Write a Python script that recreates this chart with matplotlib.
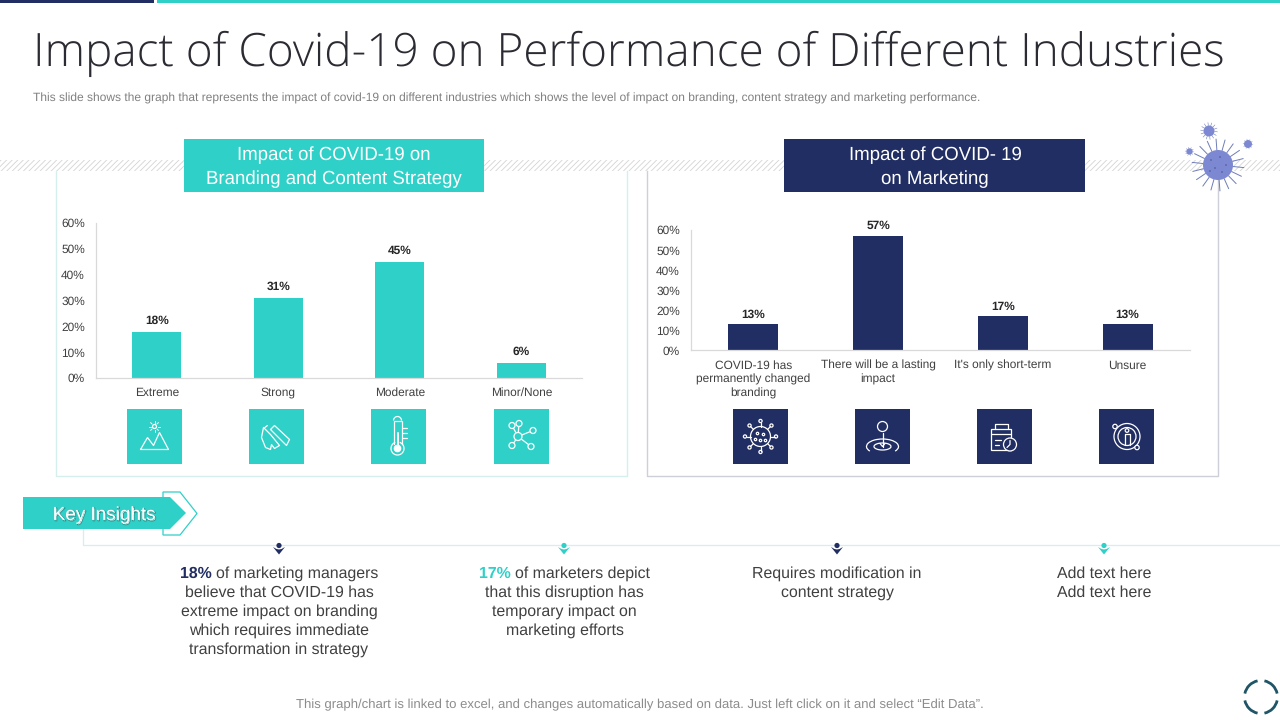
import numpy as np
import matplotlib
matplotlib.use("Agg")
import matplotlib.pyplot as plt
import matplotlib.patheffects as pe
from matplotlib.patches import Rectangle, Polygon, Circle, Arc

TEAL = "#2fd0c8"
NAVY = "#212e63"
TXT = "#404040"
plt.rcParams["font.family"] = ["Liberation Sans", "DejaVu Sans"]
plt.rcParams["hatch.linewidth"] = 0.6
plt.rcParams["text.hinting"] = "no_hinting"
plt.rcParams["text.hinting_factor"] = 8

left_categories = ["Extreme", "Strong", "Moderate", "Minor/None"]
left_values = [18, 31, 45, 6]
right_categories = ["COVID-19 has\npermanently changed\nbranding", "There will be a lasting\nimpact",
                    "It's only short-term", "Unsure"]
right_values = [13, 57, 17, 13]
y_ticks = [0, 10, 20, 30, 40, 50, 60]

W, H = 1280, 720
fig = plt.figure(figsize=(12.8, 7.2), dpi=100, facecolor="white")
bg = fig.add_axes([0, 0, 1, 1], zorder=0)
bg.set_xlim(0, W); bg.set_ylim(H, 0); bg.axis("off")


def rect(x0, y0, x1, y1, **kw):
    bg.add_patch(Rectangle((x0, y0), x1 - x0, y1 - y0, **kw))


def line(xs, ys, c="white", lw=0.9, z=6):
    bg.plot(xs, ys, color=c, lw=lw, zorder=z, solid_capstyle="round")


def circ(x, y, r, c="white", lw=0.9, fill=False, z=6):
    bg.add_patch(Circle((x, y), r, fill=fill, facecolor=c if fill else "none",
                        edgecolor=c, lw=lw, zorder=z))


# top strips
rect(0, 0, 154, 3, fc=NAVY, lw=0)
rect(157, 0, W, 3, fc=TEAL, lw=0)

bg.text(33, 54, "Impact of Covid-19 on Performance of Different Industries", fontsize=33.06,
        family=["Open Sans", "Liberation Sans"], weight=300, color="#2b2b33", va="center", ha="left")
bg.text(33, 98, "This slide shows the graph that represents the impact of covid-19 on different industries "
        "which shows the level of impact on branding, content strategy and marketing performance.",
        fontsize=8.65, color="#808080", va="center", ha="left")

# hatched band
rect(0, 160, W, 171, fc="white", ec="#d4d4d4", hatch="//////", lw=0, zorder=1)

# panels: white body, three visible edges
rect(56, 171, 627, 476, fc="white", lw=0, zorder=2)
rect(647, 171, 1218, 476, fc="white", lw=0, zorder=2)
bg.plot([56, 56, 627, 627], [171, 476, 476, 171], color="#d5efec", lw=1, zorder=2.5)
bg.plot([647, 647, 1217.5, 1217.5], [171, 476, 476, 175], color="#cdd0d9", lw=1, zorder=2.5)

# headers
rect(184, 139, 484, 192, fc=TEAL, lw=0, zorder=3)
rect(784, 139, 1085, 192, fc=NAVY, lw=0, zorder=3)
bg.text(334, 167.5, "Impact of COVID-19 on\nBranding and Content Strategy", color="white", fontsize=13.4,
        ha="center", va="center", linespacing=1.45, zorder=4)
bg.text(935, 167.5, "Impact of COVID- 19\non Marketing", color="white", fontsize=13.4,
        ha="center", va="center", linespacing=1.45, zorder=4)


def chart(px0, px1, ptop, pbot, cats, vals, color, off):
    ax = fig.add_axes([px0 / W, 1 - pbot / H, (px1 - px0) / W, (pbot - ptop) / H], zorder=3)
    ax.patch.set_alpha(0)
    x = np.arange(len(vals))
    ax.bar(x, vals, width=0.4, color=color)
    ax.set_xlim(-0.5, len(vals) - 0.5)
    ax.set_ylim(0, 60)
    ax.set_yticks(y_ticks, [f"{t}%" for t in y_ticks])
    ax.set_xticks(x, cats)
    ax.tick_params(length=0, labelsize=8.6, labelcolor=TXT)
    ax.tick_params(axis="x", pad=6.7)
    ax.tick_params(axis="y", pad=8)
    for lb in ax.get_xticklabels():
        lb.set_linespacing(1.3)
    for s in ("top", "right"):
        ax.spines[s].set_visible(False)
    for s in ("left", "bottom"):
        ax.spines[s].set_color("#d9d9d9")
        ax.spines[s].set_linewidth(0.9)
    for xi, v in zip(x, vals):
        ax.annotate(f"{v}%", (xi, v), xytext=(0, off), textcoords="offset points", ha="center",
                    va="bottom", fontsize=8.6, weight="bold", color="#262626")
    return ax


chart(96, 582, 223, 378, left_categories, left_values, TEAL, 4)
chart(691, 1190, 230, 350.5, right_categories, right_values, NAVY, 3)

# icon tiles
for x0 in (127, 249, 371, 494):
    rect(x0, 409, x0 + 55, 464, fc=TEAL, lw=0, zorder=3)
for x0 in (733, 855, 977, 1099):
    rect(x0, 409, x0 + 55, 464, fc=NAVY, lw=0, zorder=3)

# mountains + sun
cx, cy = 154.5, 436.5
line([cx-14, cx-7, cx-1, cx+5, cx+14, cx-14], [cy+13, cy+1, cy+9, cy-4, cy+13, cy+13])
circ(cx, cy-10, 2)
for a in np.linspace(0, 2*np.pi, 8, endpoint=False):
    line([cx+3.5*np.cos(a), cx+5.5*np.cos(a)], [cy-10+3.5*np.sin(a), cy-10+5.5*np.sin(a)], lw=0.7)
# arm / strength
cx = 276.5
line([cx-13, cx-15, cx-11, cx-6, cx-5, cx-2, cx+3, cx-6, cx-13],
     [cy-9, cy+1, cy+11, cy+13, cy+8, cy+12, cy+9, cy-2, cy-9])
line([cx-6, cx-2, cx+13, cx+10, cx-6], [cy-7, cy-11, cy+3, cy+9, cy-7])
line([cx-9, cx-13], [cy-11, cy-8])
# thermometer
cx = 397.5
line([cx-4, cx-4, cx+4, cx+4], [cy+7, cy-16, cy-16, cy+7])
bg.add_patch(Arc((cx, cy-16), 8, 8, theta1=180, theta2=360, color="white", lw=0.9, zorder=6))
bg.add_patch(Arc((cx, cy+12), 13, 13, theta1=-70, theta2=250, color="white", lw=0.9, zorder=6))
circ(cx, cy+12, 3.2, fill=True)
line([cx, cx], [cy-4, cy+10], lw=1.4)
for dy in (-9, -4, 1):
    line([cx+5, cx+9], [cy+dy, cy+dy])
# network
cx = 521
for dx, dy, r in [(-9, -11, 3), (-2, -13, 3), (12, -6, 3), (-9, 9, 3), (10, 10, 3)]:
    line([cx-3, cx+dx], [cy, cy+dy])
    bg.add_patch(Circle((cx+dx, cy+dy), r, fc=TEAL, ec="white", lw=0.9, zorder=6))
bg.add_patch(Circle((cx-3, cy), 4, fc=TEAL, ec="white", lw=0.9, zorder=6))
# virus icon
cx = 760.5
circ(cx, cy, 10)
for a in np.linspace(0, 2*np.pi, 8, endpoint=False):
    line([cx+10*np.cos(a), cx+14*np.cos(a)], [cy+10*np.sin(a), cy+14*np.sin(a)])
    circ(cx+15.5*np.cos(a), cy+15.5*np.sin(a), 1.6)
for dx, dy in [(-3, -3), (3, -2), (0, 4), (-5, 3), (5, 4)]:
    circ(cx+dx, cy+dy, 1.2)
# location
cx = 882.5
circ(cx, cy-10, 5)
line([cx, cx], [cy-4, cy+10]); line([cx-2.5, cx, cx+2.5], [cy+7, cy+10, cy+7])
bg.add_patch(Arc((cx, cy+10), 32, 15, theta1=-200, theta2=20, color="white", lw=0.9, zorder=6))
bg.add_patch(Arc((cx, cy+10), 17, 7, theta1=0, theta2=360, color="white", lw=0.9, zorder=6))
# calendar clock
cx = 1004
rect(cx-13, cy-8, cx+7, cy+13, fc="none", ec="white", lw=0.9, zorder=6)
line([cx-13, cx+7], [cy-3, cy-3])
line([cx-9, cx-9, cx+4, cx+4], [cy-8, cy-13, cy-13, cy-8])
line([cx-9, cx-3], [cy+3, cy+3]); line([cx-9, cx-5], [cy+8, cy+8])
bg.add_patch(Circle((cx+6, cy+8), 6.5, fc=NAVY, ec="white", lw=0.9, zorder=6))
line([cx+6, cx+6, cx+3], [cy+4, cy+8, cy+11])
# target person
cx = 1127
circ(cx, cy, 13); circ(cx, cy, 9)
circ(cx, cy-6, 1.8)
line([cx-2.5, cx-2.5, cx+2.5, cx+2.5], [cy+8, cy-3, cy-3, cy+8])
bg.add_patch(Circle((cx-12, cy-10), 2.2, fc=NAVY, ec="white", lw=0.9, zorder=6))
bg.add_patch(Circle((cx+10, cy+11), 2.2, fc=NAVY, ec="white", lw=0.9, zorder=6))

# coronavirus decoration
VC = "#7d88d2"


def virus(x, y, r, spike, n, lw, z=5):
    for a in np.linspace(0, 2*np.pi, n, endpoint=False) + 0.1:
        line([x+r*np.cos(a), x+spike*np.cos(a)], [y+r*np.sin(a), y+spike*np.sin(a)], c="#6f7cb8", lw=lw, z=z)
    circ(x, y, r, c=VC, fill=True, lw=0, z=z+0.5)


virus(1218, 165, 15, 26, 18, 0.7)
for dx, dy in [(-7, -5), (2, -8), (8, 0), (-3, 3), (4, 7), (-8, 6)]:
    circ(1218+dx, 165+dy, 0.9, c="#56649f", fill=True, lw=0, z=6)
virus(1209, 131, 5.5, 8.5, 14, 0.4)
virus(1248, 144, 4, 5, 10, 0.3)
virus(1189.5, 151.5, 3.2, 4.4, 10, 0.3)

# Key insights
bg.add_patch(Polygon([(163, 492), (180, 492), (197, 513.5), (180, 535), (163, 535)], closed=True,
                     fc="white", ec=TEAL, lw=0.9, zorder=2))
bg.add_patch(Polygon([(23, 497), (170, 497), (186, 513), (170, 529), (23, 529)], closed=True,
                     fc=TEAL, lw=0, zorder=3))
bg.text(104, 515, "Key Insights", color="white", fontsize=13.6, ha="center", va="center", zorder=4,
        path_effects=[pe.Stroke(offset=(0.7, -0.7), linewidth=0.6, foreground="#1c8f89"), pe.Normal()])
bg.plot([83, 83, W], [529, 545, 545], color="#d5efec", lw=0.9, zorder=1)

for x, c in [(279, NAVY), (564, TEAL), (837, NAVY), (1104, TEAL)]:
    circ(x, 545.5, 2.6, c=c, fill=True, lw=0, z=3)
    bg.add_patch(Polygon([(x-6, 547), (x-2.5, 549), (x, 549.5), (x+2.5, 549), (x+6, 547), (x, 554.5)],
                         closed=True, fc=c, lw=0, zorder=3))


def para(xc, lines, y0=573.5, step=19, size=11.45):
    r = fig.canvas.get_renderer()
    for i, ln in enumerate(lines):
        y = y0 + i * step
        if isinstance(ln, tuple):
            head, col, rest = ln
            t1 = bg.text(0, y, head, fontsize=size, weight="bold", color=col, va="center", ha="left")
            t2 = bg.text(0, y, rest, fontsize=size, color=TXT, va="center", ha="left")
            w1 = t1.get_window_extent(r).width
            w2 = t2.get_window_extent(r).width
            start = xc - (w1 + 4 + w2) / 2
            t1.set_x(start)
            t2.set_x(start + w1 + 4)
        else:
            bg.text(xc, y, ln, fontsize=size, color=TXT, va="center", ha="center")


para(279, [("18%", NAVY, "of marketing managers"), "believe that COVID-19 has", "extreme impact on branding",
           "which requires immediate", "transformation in strategy"])
para(564.5, [("17%", TEAL, "of marketers depict"), "that this disruption has", "temporary impact on",
             "marketing efforts"])
para(837, ["Requires modification in", "content strategy"])
para(1104, ["Add text here", "Add text here"])

bg.text(640, 704.5, "This graph/chart is linked to excel, and changes automatically based on data. "
        "Just left click on it and select \u201cEdit Data\u201d.", fontsize=9.49, color="#8c8c8c",
        ha="center", va="center")

for a in (0, 90, 180, 270):
    bg.add_patch(Arc((1261, 697), 33, 33, theta1=a + 12, theta2=a + 78, color="#1f5566", lw=2, zorder=5))

fig.savefig("out.png", dpi=100)
